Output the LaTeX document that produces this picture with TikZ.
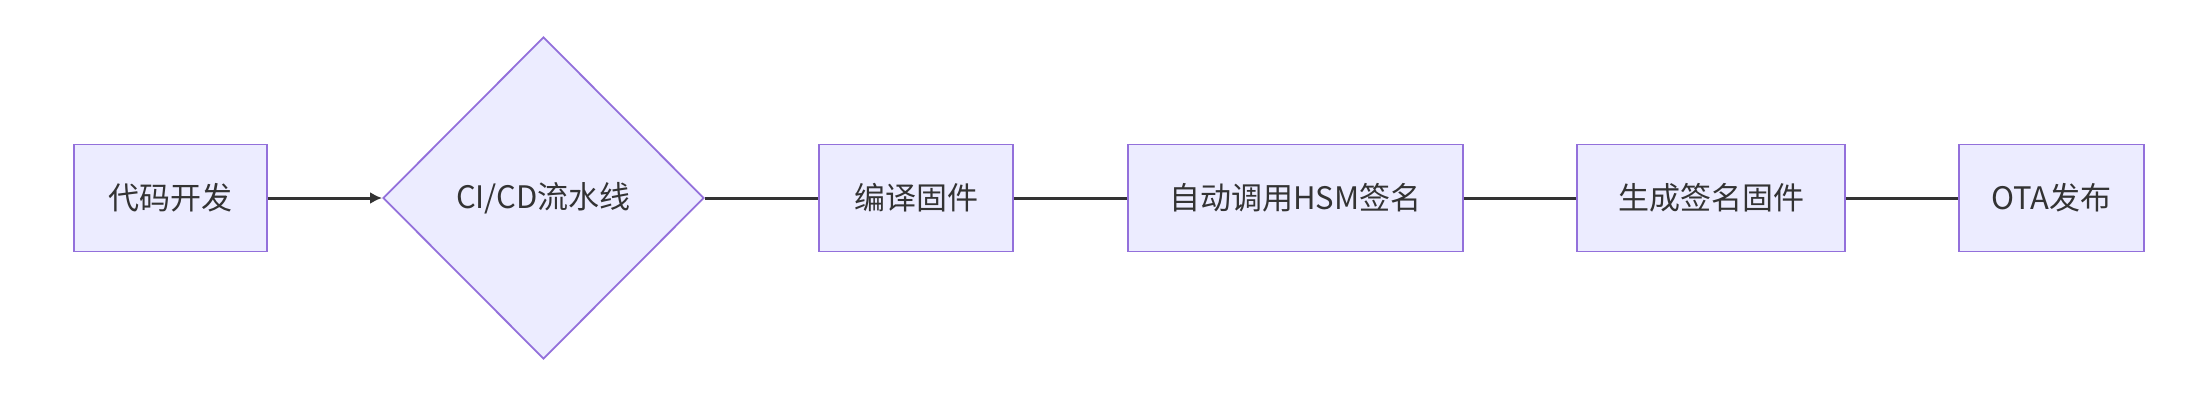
\documentclass[tikz,border=0pt]{standalone}
\usepackage{fontspec}
\setmainfont{Noto Sans CJK SC}
\usetikzlibrary{shapes.geometric,arrows.meta}
\definecolor{nfill}{HTML}{ECECFF}
\definecolor{nline}{HTML}{9370DB}
\definecolor{tcol}{HTML}{333333}
\begin{document}
\begin{tikzpicture}[x=1pt,y=1pt,
  box/.style={draw=nline,fill=nfill,line width=1.8pt,inner sep=0pt,minimum height=107pt,text=tcol,font=\fontsize{31}{36}\selectfont},
  conn/.style={draw=tcol,line width=3pt}]
\useasboundingbox (0,0) rectangle (2200,-412);
\node[box,minimum width=193pt] (a) at (170.5,-198) {代码开发};
\node[box,shape=diamond,minimum width=321pt,minimum height=322pt] (b) at (543.5,-198) {CI/CD流水线};
\node[box,minimum width=194pt] (c) at (916,-198) {编译固件};
\node[box,minimum width=335pt] (d) at (1295.5,-198) {自动调用HSM签名};
\node[box,minimum width=268pt] (e) at (1711,-198) {生成签名固件};
\node[box,minimum width=185pt] (f) at (2051.5,-198) {OTA发布};
\draw[conn,-{Latex[length=12pt,width=12pt]}] (a) -- (b);
\draw[conn] (b) -- (c);
\draw[conn] (c) -- (d);
\draw[conn] (d) -- (e);
\draw[conn] (e) -- (f);
\end{tikzpicture}
\end{document}
